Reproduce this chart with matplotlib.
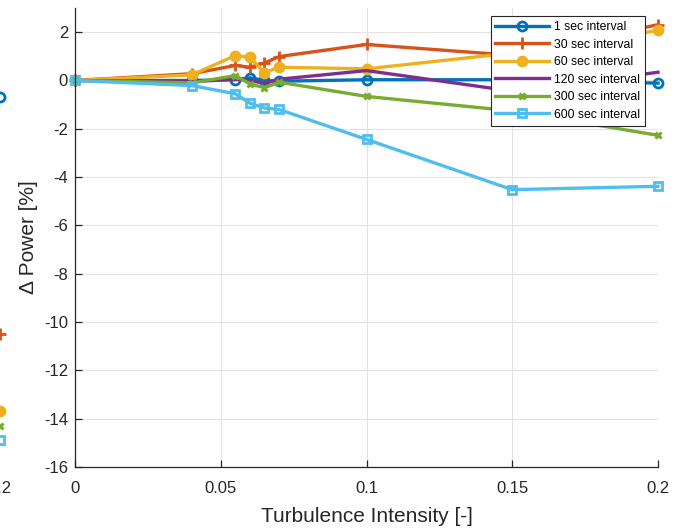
import matplotlib
matplotlib.use("Agg")
import matplotlib.pyplot as plt

plt.rcParams['font.family'] = ['Liberation Sans', 'DejaVu Sans']
plt.rcParams['axes.unicode_minus'] = False

# Data
ti = [0, 0.04, 0.055, 0.06, 0.065, 0.07, 0.1, 0.15, 0.2]
labels = ['1 sec interval', '30 sec interval', '60 sec interval',
          '120 sec interval', '300 sec interval', '600 sec interval']
p1 = [0, 0.0, 0.03, 0.11, 0.0, -0.03, 0.03, 0.03, -0.11]
p30 = [0, 0.28, 0.62, 0.55, 0.72, 0.99, 1.49, 1.04, 2.31]
p60 = [0, 0.23, 1.03, 0.96, 0.32, 0.55, 0.48, 1.14, 2.07]
p120 = [0, -0.05, 0.05, 0.0, -0.12, 0.05, 0.41, -0.44, 0.34]
p300 = [0, -0.1, 0.2, -0.14, -0.3, -0.07, -0.66, -1.26, -2.27]
p600 = [0, -0.21, -0.55, -0.94, -1.14, -1.2, -2.44, -4.52, -4.38]
series = [p1, p30, p60, p120, p300, p600]

# end values of neighbouring (cropped) panel at x = 0.2
left_x = 0.2
left_vals = [-0.7, -10.5, -13.7, None, -14.3, -14.9]

xticks = [0, 0.05, 0.1, 0.15, 0.2]
xticklabels = ['0', '0.05', '0.1', '0.15', '0.2']
yticks = list(range(-16, 3, 2))

colors = ['#0072BD', '#D95319', '#EDB120', '#7E2F8E', '#77AC30', '#4DBEEE']
styles = [
    dict(marker='o', markersize=6.5, markerfacecolor='none', markeredgewidth=2),
    dict(marker='+', markersize=8, markeredgewidth=2),
    dict(marker='o', markersize=7, markeredgewidth=1.5),
    dict(marker='None'),
    dict(marker='x', markersize=5, markeredgewidth=2.2),
    dict(marker='s', markersize=6, markerfacecolor='none', markeredgewidth=2),
]

fig = plt.figure(figsize=(6.85, 5.3), dpi=100)
ax = fig.add_axes([75/685, 63/530, 583/685, 459/530])
axc = '#262626'

for s, lab, c, st in zip(series, labels, colors, styles):
    ax.plot(ti, s, color=c, lw=2.4, label=lab, clip_on=False, **st)

ax.set_xlim(0, 0.2)
ax.set_ylim(-16, 3)
ax.set_xticks(xticks)
ax.set_xticklabels(xticklabels)
ax.set_yticks(yticks)
ax.grid(True, color='#E3E3E3', lw=0.8)
ax.set_axisbelow(True)
for sp in ['top', 'right']:
    ax.spines[sp].set_visible(False)
for sp in ['left', 'bottom']:
    ax.spines[sp].set_color(axc)
    ax.spines[sp].set_linewidth(0.9)
ax.tick_params(direction='in', length=5, width=0.9, colors=axc, labelsize=12)
ax.tick_params(axis='x', pad=10)
ax.tick_params(axis='y', pad=5)
ax.set_xlabel('Turbulence Intensity [-]', fontsize=15, color=axc, labelpad=8)
ax.set_ylabel('Δ Power [%]', fontsize=15, color=axc, labelpad=4)

leg = ax.legend(loc='upper right', bbox_to_anchor=(0.978, 0.982),
                fontsize=8.8, frameon=True, fancybox=False, handlelength=4.4,
                borderpad=0.4, labelspacing=0.45, handletextpad=0.4,
                borderaxespad=0)
leg.get_frame().set_edgecolor(axc)
leg.get_frame().set_linewidth(0.8)
leg.get_frame().set_alpha(1)

# cropped neighbouring panel at the left edge
ax2 = fig.add_axes([-583/685, 63/530, 583/685, 459/530])
for v, c, st in zip(left_vals, colors, styles):
    if v is not None and st['marker'] != 'None':
        ax2.plot([left_x], [v], color=c, lw=2.4, clip_on=False, **st)
ax2.set_xlim(0, 0.2)
ax2.set_ylim(-16, 3)
ax2.set_xticks([0.2])
ax2.set_xticklabels(['0.2'])
ax2.set_yticks([])
for sp in ax2.spines.values():
    sp.set_visible(False)
ax2.tick_params(axis='x', length=0, colors=axc, labelsize=12, pad=10)

fig.savefig('out.png', dpi=100)
